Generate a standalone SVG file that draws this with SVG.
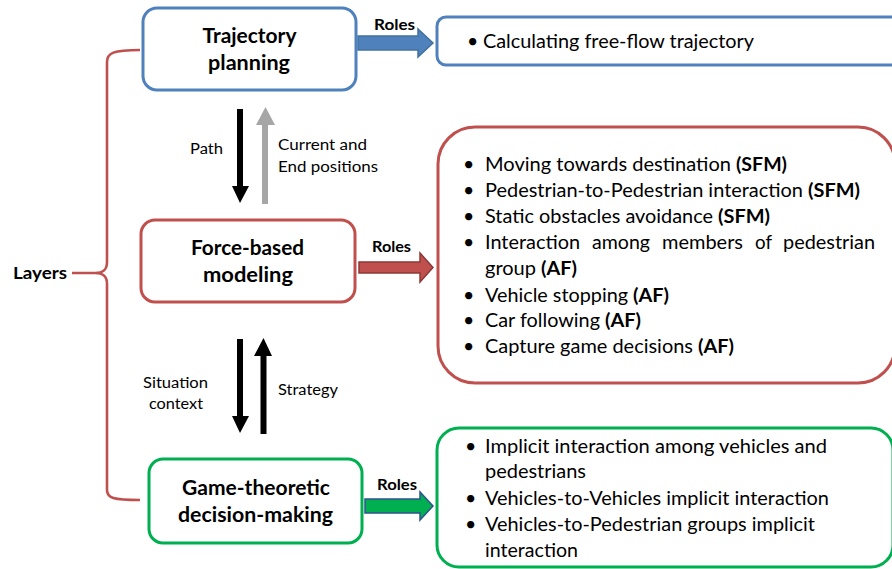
<svg xmlns="http://www.w3.org/2000/svg" width="892" height="569" viewBox="0 0 892 569">
<style>
text{font-family:Lato,"Open Sans","Liberation Sans",sans-serif;fill:#000}
.node{font-size:20px;font-weight:bold;text-anchor:middle}
.lbl{font-size:15.5px}
.role{font-size:14.5px;font-weight:bold}
.body{font-size:19.5px}
.b{font-weight:bold}
.box{fill:#fff;stroke-width:3}
</style>
<rect width="892" height="569" fill="#fff"/>
<g id="connectors">
<path id="layers-brace" d="M140,50 C113,50 107,53 107,62 L107,262 C107,270 103,273 95,273 L72,273 M95,273 C103,273 107,276 107,284 L107,490 C107,498 113,500 140,500" fill="none" stroke="#c0504d" stroke-width="2.6"/>
<polygon points="358,36 418,36 418,29 433,43 418,57 418,50 358,50" fill="#4f81bd" stroke="#41719c" stroke-width="1.5"/>
<polygon points="359,262 420,262 420,253 433,267.5 420,282 420,273 359,273" fill="#c0504d" stroke="#8c3836" stroke-width="1.5"/>
<polygon points="365,499 420,499 420,492 433,506 420,520 420,513 365,513" fill="#00b050" stroke="#2f528f" stroke-width="1.5"/>
<polygon points="237,109 243,109 243,186 249,186 240,203 232,186 237,186" fill="#000"/>
<polygon points="262,204 268,204 268,125 275,125 265.5,107 256,125 262,125" fill="#a6a6a6"/>
<polygon points="237,339 243,339 243,416 249,416 240,433 232,416 237,416" fill="#000"/>
<polygon points="260.5,434 266.5,434 266.5,356 272,356 263.5,338 254,356 260.5,356" fill="#000"/>
<text class="role" x="374" y="30" textLength="41" lengthAdjust="spacingAndGlyphs">Roles</text>
<text class="role" x="372" y="252" textLength="39" lengthAdjust="spacingAndGlyphs">Roles</text>
<text class="role" x="377" y="490" textLength="40" lengthAdjust="spacingAndGlyphs">Roles</text>
<text class="lbl" x="190" y="154" textLength="33" lengthAdjust="spacingAndGlyphs">Path</text>
<text class="lbl" x="278" y="150" textLength="89" lengthAdjust="spacingAndGlyphs">Current and</text>
<text class="lbl" x="278" y="172" textLength="100" lengthAdjust="spacingAndGlyphs">End positions</text>
<text class="lbl" x="143" y="388" textLength="65" lengthAdjust="spacingAndGlyphs">Situation</text>
<text class="lbl" x="149" y="409" textLength="54" lengthAdjust="spacingAndGlyphs">context</text>
<text class="lbl" x="278" y="395" textLength="60" lengthAdjust="spacingAndGlyphs">Strategy</text>
<text x="13" y="279" font-size="17" font-weight="bold" textLength="54" lengthAdjust="spacingAndGlyphs">Layers</text>
</g>
<g id="trajectory-planning">
<rect class="box" x="143" y="8" width="213" height="82" rx="14" stroke="#4f81bd"/>
<text class="node" x="249.5" y="43" textLength="94" lengthAdjust="spacingAndGlyphs">Trajectory</text>
<text class="node" x="249" y="70" textLength="82" lengthAdjust="spacingAndGlyphs">planning</text>
</g>
<g id="force-based-modeling">
<rect class="box" x="141" y="220" width="214" height="82" rx="14" stroke="#c0504d"/>
<text class="node" x="247.5" y="255" textLength="113" lengthAdjust="spacingAndGlyphs">Force-based</text>
<text class="node" x="248" y="282" textLength="90" lengthAdjust="spacingAndGlyphs">modeling</text>
</g>
<g id="game-theoretic">
<rect class="box" x="149" y="459" width="213" height="84" rx="14" stroke="#00b050"/>
<text class="node" x="256" y="495" textLength="148" lengthAdjust="spacingAndGlyphs">Game-theoretic</text>
<text class="node" x="255.5" y="522" textLength="155" lengthAdjust="spacingAndGlyphs">decision-making</text>
</g>
<g id="roles-trajectory">
<rect class="box" x="437" y="17" width="480" height="48" rx="9" stroke="#4f81bd"/>
<text class="body" x="467" y="48">•</text>
<text class="body" x="483" y="48" textLength="271" lengthAdjust="spacingAndGlyphs">Calculating free-flow trajectory</text>
</g>
<g id="roles-force">
<rect class="box" x="438" y="127" width="457" height="256" rx="37" stroke="#c0504d"/>
<text class="body" x="463" y="171">•</text>
<text class="body" x="485" y="171" textLength="246" lengthAdjust="spacingAndGlyphs">Moving towards destination</text>
<text class="body b" x="736" y="171" textLength="51" lengthAdjust="spacingAndGlyphs">(SFM)</text>
<text class="body" x="463" y="197">•</text>
<text class="body" x="485" y="197" textLength="318" lengthAdjust="spacingAndGlyphs">Pedestrian-to-Pedestrian interaction</text>
<text class="body b" x="808" y="197" textLength="52" lengthAdjust="spacingAndGlyphs">(SFM)</text>
<text class="body" x="463" y="223">•</text>
<text class="body" x="485" y="223" textLength="228" lengthAdjust="spacingAndGlyphs">Static obstacles avoidance</text>
<text class="body b" x="718" y="223" textLength="52" lengthAdjust="spacingAndGlyphs">(SFM)</text>
<text class="body" x="463" y="249">•</text>
<text class="body" x="485" y="249" textLength="95" lengthAdjust="spacingAndGlyphs">Interaction</text>
<text class="body" x="592" y="249" textLength="58" lengthAdjust="spacingAndGlyphs">among</text>
<text class="body" x="662" y="249" textLength="81" lengthAdjust="spacingAndGlyphs">members</text>
<text class="body" x="755" y="249" textLength="17" lengthAdjust="spacingAndGlyphs">of</text>
<text class="body" x="783" y="249" textLength="92" lengthAdjust="spacingAndGlyphs">pedestrian</text>
<text class="body" x="485" y="275" textLength="51" lengthAdjust="spacingAndGlyphs">group</text>
<text class="body b" x="541" y="275" textLength="36" lengthAdjust="spacingAndGlyphs">(AF)</text>
<text class="body" x="463" y="302">•</text>
<text class="body" x="485" y="302" textLength="143" lengthAdjust="spacingAndGlyphs">Vehicle stopping</text>
<text class="body b" x="633" y="302" textLength="36" lengthAdjust="spacingAndGlyphs">(AF)</text>
<text class="body" x="463" y="327">•</text>
<text class="body" x="485" y="327" textLength="115" lengthAdjust="spacingAndGlyphs">Car following</text>
<text class="body b" x="605" y="327" textLength="36" lengthAdjust="spacingAndGlyphs">(AF)</text>
<text class="body" x="463" y="353">•</text>
<text class="body" x="485" y="353" textLength="208" lengthAdjust="spacingAndGlyphs">Capture game decisions</text>
<text class="body b" x="698" y="353" textLength="36" lengthAdjust="spacingAndGlyphs">(AF)</text>
</g>
<g id="roles-game">
<rect class="box" x="437" y="428" width="456" height="139" rx="22" stroke="#00b050"/>
<text class="body" x="465" y="453">•</text>
<text class="body" x="485" y="453" textLength="342" lengthAdjust="spacingAndGlyphs">Implicit interaction among vehicles and</text>
<text class="body" x="485" y="478" textLength="101" lengthAdjust="spacingAndGlyphs">pedestrians</text>
<text class="body" x="465" y="505">•</text>
<text class="body" x="485" y="505" textLength="344" lengthAdjust="spacingAndGlyphs">Vehicles-to-Vehicles implicit interaction</text>
<text class="body" x="465" y="531">•</text>
<text class="body" x="485" y="531" textLength="330" lengthAdjust="spacingAndGlyphs">Vehicles-to-Pedestrian groups implicit</text>
<text class="body" x="485" y="557" textLength="93" lengthAdjust="spacingAndGlyphs">interaction</text>
</g>
</svg>
